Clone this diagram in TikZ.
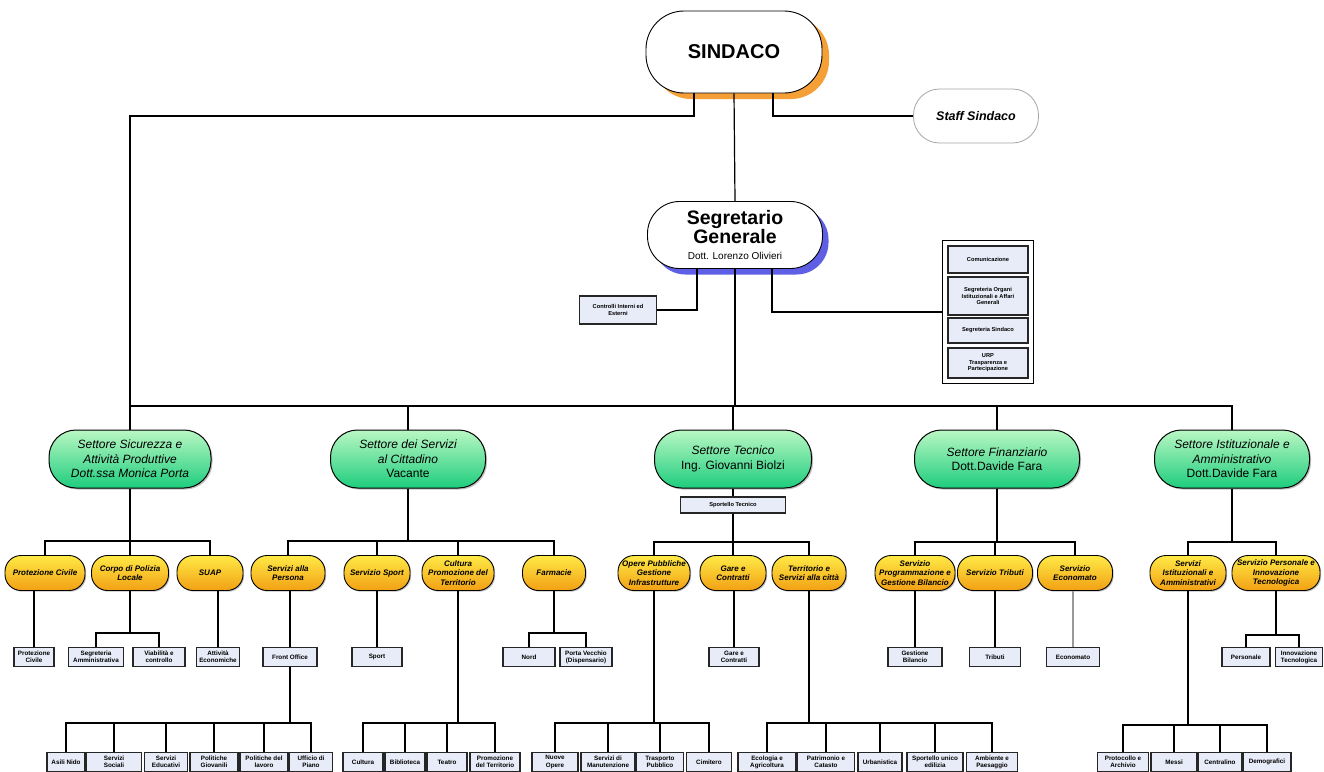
\documentclass[tikz,border=0pt]{standalone}
\usepackage{fontspec}
\setmainfont{Liberation Sans}
\usetikzlibrary{shadows}
\definecolor{boxFill}{RGB}{232,236,248}
\definecolor{greenTop}{RGB}{185,247,195}
\definecolor{greenBot}{RGB}{30,205,125}
\definecolor{orangeTop}{RGB}{255,234,70}
\definecolor{orangeBot}{RGB}{242,160,20}
\definecolor{sindacoShadow}{RGB}{245,160,55}
\definecolor{segrShadow}{RGB}{95,95,230}
\begin{document}
\begin{tikzpicture}
[x=1pt,y=-1pt,
  lineDecorate/.style={line width=1.2pt,black},
  sindacoDecorate/.style={draw,line width=.9pt,fill=white,rounded corners=38pt,
    minimum width=176,minimum height=82,font=\fontsize{20}{22}\selectfont\bfseries,
    drop shadow={shadow xshift=7pt,shadow yshift=-6pt,fill=sindacoShadow,opacity=1}},
  segrDecorate/.style={draw,line width=.9pt,fill=white,rounded corners=32pt,
    minimum width=175,minimum height=67,align=center,inner sep=1pt,
    font=\fontsize{19.5}{16.5}\selectfont\bfseries,
    drop shadow={shadow xshift=6pt,shadow yshift=-6pt,fill=segrShadow,opacity=1}},
  staffDecorate/.style={draw=black!35,line width=.8pt,fill=white,rounded corners=26pt,
    minimum width=125,minimum height=54,font=\fontsize{12.5}{14}\selectfont\bfseries\itshape},
  settoreDecorate/.style={draw,line width=1pt,rounded corners=27pt,minimum height=58,
    top color=greenTop,bottom color=greenBot,align=center,inner sep=1pt,
    font=\fontsize{12}{14.5}\selectfont\itshape,
    drop shadow={shadow xshift=1.5pt,shadow yshift=-1.5pt,opacity=.5}},
  servizioDecorate/.style={draw,line width=.9pt,rounded corners=16pt,minimum height=35,
    top color=orangeTop,bottom color=orangeBot,align=center,inner sep=1pt,
    font=\fontsize{8}{9.5}\selectfont\bfseries\itshape,
    drop shadow={shadow xshift=1.2pt,shadow yshift=-1.2pt,opacity=.5}},
  ufficioDecorate/.style={draw=black!85,line width=1.3pt,fill=boxFill,align=center,
    inner sep=1pt,minimum height=19,font=\fontsize{6.3}{7.2}\selectfont\bfseries},
  staffBoxDecorate/.style={draw=black!85,line width=1.3pt,fill=boxFill,align=center,
    inner sep=1pt,minimum width=80,font=\fontsize{5.7}{6.6}\selectfont\bfseries}]
\path[use as bounding box,fill=white] (0,0) rectangle (1324,771);
%% top of the chart
\node (sindaco) at (734,52) [sindacoDecorate] {SINDACO};
\node (staff) at (976,116) [staffDecorate] {Staff Sindaco};
\node (segr) at (735,235) [segrDecorate]
  {Segretario\\Generale\\{\fontsize{10}{12}\selectfont\mdseries Dott. Lorenzo Olivieri}};
\node (contr) at (618,310) [staffBoxDecorate,minimum width=77,minimum height=28]
  {Controlli Interni ed\\Esterni};
\node (staffgrp) at (988,312) [draw,line width=1.2pt,minimum width=91,minimum height=143] {};
\foreach \nodename/\y/\h/\txt in {
  comun/259.5/27/{Comunicazione},
  segorg/296/38/{Segreteria Organi\\Istituzionali e Affari\\Generali},
  segsind/330.5/25/{Segreteria Sindaco},
  urp/363/30/{URP\\Trasparenza e\\Partecipazione}}
{
  \node (\nodename) at (988,\y) [staffBoxDecorate,minimum height=\h] {\txt};
}
%% settori
\foreach \nodename/\x/\w/\txt in {
  sec1/130/162/{Settore Sicurezza e\\Attività Produttive\\Dott.ssa Monica Porta},
  sec2/408/155/{Settore dei Servizi\\al Cittadino\\{\upshape Vacante}},
  sec3/733/157/{Settore Tecnico\\{\upshape Ing. Giovanni Biolzi}},
  sec4/997/165/{Settore Finanziario\\{\upshape Dott.Davide Fara}},
  sec5/1232/155/{Settore Istituzionale e\\Amministrativo\\{\upshape Dott.Davide Fara}}}
{
  \node (\nodename) at (\x,459) [settoreDecorate,minimum width=\w] {\txt};
}
\node (spt) at (733,505) [staffBoxDecorate,minimum width=105,minimum height=16] {Sportello Tecnico};
%% servizi
\foreach \nodename/\x/\w/\txt in {
  pc/45/80/{Protezione Civile}, cpl/130/77/{Corpo di Polizia\\Locale},
  suap/210/66/{SUAP}, persona/288/74/{Servizi alla\\Persona},
  sport/377/66/{Servizio Sport}, cultura/458/72/{Cultura\\Promozione del\\Territorio},
  farm/554/63/{Farmacie}, opere/654/72/{Opere Pubbliche\\Gestione\\Infrastrutture},
  gare/733/66/{Gare e\\Contratti}, terr/809/74/{Territorio e\\Servizi alla città},
  prog/915/80/{Servizio\\Programmazione e\\Gestione Bilancio},
  trib/995/75/{Servizio Tributi}, econ/1075/75/{Servizio\\Economato},
  istam/1188/76/{Servizi\\Istituzionali e\\Amministrativi},
  pers/1276/88/{Servizio Personale e\\Innovazione\\Tecnologica}}
{
  \node (\nodename) at (\x,573) [servizioDecorate,minimum width=\w] {\txt};
}
%% uffici
\foreach \nodename/\x/\y/\w/\txt in {
  pcb/34/657/40/{Protezione\\Civile}, segam/96/657/55/{Segreteria\\Amministrativa},
  viab/159/657/52/{Viabilità e\\controllo}, attec/218/657/43/{Attività\\Economiche},
  front/290/657/54/{Front Office}, sportb/377/657/50/{Sport},
  nord/529/657/52/{Nord}, porta/586/657/52/{Porta Vecchio\\(Dispensario)},
  gareb/734/657/50/{Gare e\\Contratti}, gbil/915/657/54/{Gestione\\Bilancio},
  tribb/995/657/51/{Tributi}, econb/1073/657/53/{Economato},
  persb/1246/657/48/{Personale}, innov/1299/657/47/{Innovazione\\Tecnologica},
  asili/66/762/38/{Asili Nido}, ssoc/114/762/55/{Servizi\\Sociali},
  sedu/166/762/43/{Servizi\\Educativi}, pgio/214/762/48/{Politiche\\Giovanili},
  plav/264/762/48/{Politiche del\\lavoro}, upia/311/762/43/{Ufficio di\\Piano},
  cult/363/762/40/{Cultura}, bibl/405/762/40/{Biblioteca},
  teat/447/762/40/{Teatro}, prom/495/762/50/{Promozione\\del Territorio},
  nuove/555/762/46/{Nuove\\Opere}, manut/608/762/54/{Servizi di\\Manutenzione},
  trasp/660/762/47/{Trasporto\\Pubblico}, cimit/709/762/45/{Cimitero},
  ecol/767/762/58/{Ecologia e\\Agricoltura}, patr/826/762/57/{Patrimonio e\\Catasto},
  urb/880/762/44/{Urbanistica}, sue/935/762/56/{Sportello unico\\edilizia},
  amb/992/762/51/{Ambiente e\\Paesaggio},
  prot/1123/762/51/{Protocollo e\\Archivio}, messi/1174/762/46/{Messi},
  centr/1220/762/44/{Centralino}, demo/1267/762/48/{Demografici}}
{
  \node (\nodename) at (\x,\y) [ufficioDecorate,minimum width=\w] {\txt};
}
%% edges or lines
\draw[lineDecorate] (sindaco.south) -- (segr.north);
\draw[lineDecorate] ([xshift=-40pt]sindaco.south) |- (sec1.north |- 0,116) -- (sec1.north);
\draw[lineDecorate] ([xshift=39pt]sindaco.south) |- (staff.west);
\draw[lineDecorate] ([xshift=-38pt]segr.south) |- (contr.east);
\draw[lineDecorate] ([xshift=37pt]segr.south) |- (staffgrp.west);
\foreach \s in {sec1,sec2,sec3,sec4,sec5}
  \draw[lineDecorate] (segr.south) -- (segr.south |- 0,406) -| (\s.north);
\foreach \top/\bus/\kids in {
  sec1/541/{pc,cpl,suap}, sec2/541/{persona,sport,cultura,farm},
  spt/542/{opere,gare,terr}, sec4/542/{prog,trib,econ}, sec5/542/{istam,pers},
  cpl/633/{segam,viab}, farm/633/{nord,porta}, pers/635/{persb,innov},
  front/723/{asili,ssoc,sedu,pgio,plav,upia}, cultura/723/{cult,bibl,teat,prom},
  opere/723/{nuove,manut,trasp,cimit}, terr/723/{ecol,patr,urb,sue,amb},
  istam/725/{prot,messi,centr,demo}}
{
  \foreach \kid in \kids
    \draw[lineDecorate] (\top.south) -- (\top.south |- 0,\bus) -| (\kid.north);
}
\foreach \top/\kid in {sec3/spt, pc/pcb, suap/attec, persona/front, sport/sportb,
  gare/gareb, prog/gbil, trib/tribb}
  \draw[lineDecorate] (\kid.north |- \top.south) -- (\kid.north);
\draw[lineDecorate,black!40] (econb.north |- econ.south) -- (econb.north);
\end{tikzpicture}
\end{document}
